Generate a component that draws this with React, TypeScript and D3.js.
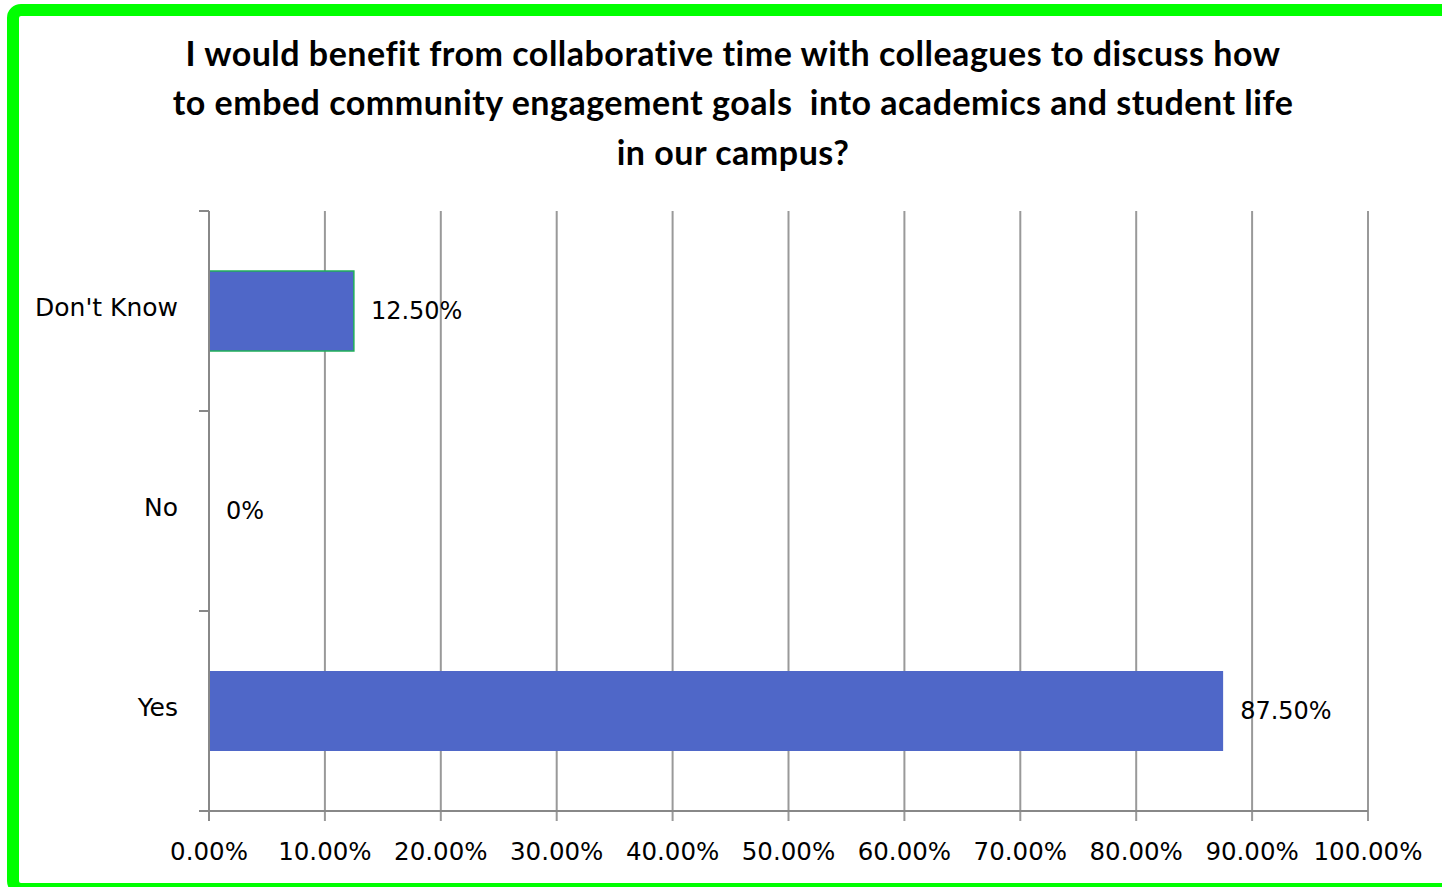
import { useEffect, useRef } from 'react';
import * as d3 from 'd3';

// chart values
const categories = ["Don't Know", 'No', 'Yes'];
const values = [12.5, 0, 87.5];
const valueLabels = ['12.50%', '0%', '87.50%'];
const barStrokes = ['#1fae5a', 'none', 'none'];
const xTicks = [0, 10, 20, 30, 40, 50, 60, 70, 80, 90, 100];
const titleLines = [
  'I would benefit from collaborative time with colleagues to discuss how',
  'to embed community engagement goals  into academics and student life',
  'in our campus?',
];

const width = 1442;
const height = 887;
const font = '"DejaVu Sans", Verdana, sans-serif';
const titleFont = 'Lato, "Open Sans", sans-serif';

export default function App() {
  const ref = useRef<SVGSVGElement>(null);

  useEffect(() => {
    const svg = d3.select(ref.current);
    svg.selectAll('*').remove();

    const left = 209;
    const right = 1368;
    const top = 211;
    const bottom = 811;

    // outer frame
    svg.append('rect')
      .attr('x', 13).attr('y', 10)
      .attr('width', width + 20).attr('height', 879)
      .attr('rx', 8)
      .attr('fill', '#fff')
      .attr('stroke', '#00ff00')
      .attr('stroke-width', 12);

    // title
    svg.append('g').selectAll('text')
      .data(titleLines)
      .enter()
      .append('text')
      .attr('x', 733)
      .attr('y', (_d, i) => 65.5 + i * 49.5)
      .attr('text-anchor', 'middle')
      .attr('font-family', titleFont)
      .attr('font-weight', 'bold')
      .attr('font-size', 34)
      .attr('letter-spacing', 0.5)
      .attr('fill', '#000')
      .style('white-space', 'pre')
      .text(d => d);

    const x = d3.scaleLinear().domain([0, 100]).range([left, right]);
    const y = d3.scaleBand().domain(categories).range([top, bottom]).paddingInner(0.6).paddingOuter(0.3);
    const yb = d3.scaleBand().domain(categories).range([top, bottom]);

    // vertical gridlines
    svg.append('g').selectAll('line')
      .data(xTicks.slice(1))
      .enter()
      .append('line')
      .attr('x1', d => x(d)).attr('x2', d => x(d))
      .attr('y1', top).attr('y2', bottom + 10)
      .attr('stroke', '#999')
      .attr('stroke-width', 2);

    // bars
    svg.append('g').selectAll('rect')
      .data(categories)
      .enter()
      .append('rect')
      .attr('x', left)
      .attr('y', d => y(d)!)
      .attr('width', (_d, i) => x(values[i]) - left)
      .attr('height', y.bandwidth())
      .attr('fill', '#4f67c8')
      .attr('stroke', (_d, i) => barStrokes[i])
      .attr('stroke-width', 1.5);

    // axes
    const axisColor = '#888';
    svg.append('line')
      .attr('x1', left - 10).attr('x2', right)
      .attr('y1', bottom).attr('y2', bottom)
      .attr('stroke', axisColor).attr('stroke-width', 2);
    svg.append('line')
      .attr('x1', left).attr('x2', left)
      .attr('y1', top).attr('y2', bottom + 10)
      .attr('stroke', axisColor).attr('stroke-width', 2);

    // y ticks at band boundaries
    const yTickPos = [...categories.map(c => yb(c)!), bottom];
    svg.append('g').selectAll('line')
      .data(yTickPos)
      .enter()
      .append('line')
      .attr('x1', left - 10).attr('x2', left)
      .attr('y1', d => d).attr('y2', d => d)
      .attr('stroke', axisColor).attr('stroke-width', 2);

    // x tick labels
    svg.append('g').selectAll('text')
      .data(xTicks)
      .enter()
      .append('text')
      .attr('x', d => x(d))
      .attr('y', 860)
      .attr('text-anchor', 'middle')
      .attr('font-family', font)
      .attr('font-size', 24.5)
      .attr('fill', '#000')
      .text(d => d.toFixed(2) + '%');

    // category labels
    svg.append('g').selectAll('text')
      .data(categories)
      .enter()
      .append('text')
      .attr('x', 178)
      .attr('y', d => yb(d)! + yb.bandwidth() / 2 + 5)
      .attr('text-anchor', 'end')
      .attr('font-family', font)
      .attr('font-size', 25)
      .attr('fill', '#000')
      .text(d => d);

    // value labels
    svg.append('g').selectAll('text')
      .data(categories)
      .enter()
      .append('text')
      .attr('x', (_d, i) => x(values[i]) + 17)
      .attr('y', d => yb(d)! + yb.bandwidth() / 2 + 8)
      .attr('font-family', font)
      .attr('font-size', 24)
      .attr('fill', '#000')
      .text((_d, i) => valueLabels[i]);
  }, []);

  return (
    <svg ref={ref} width={width} height={height} style={{ position: 'absolute', left: 0, top: 0, display: 'block' }} />
  );
}
